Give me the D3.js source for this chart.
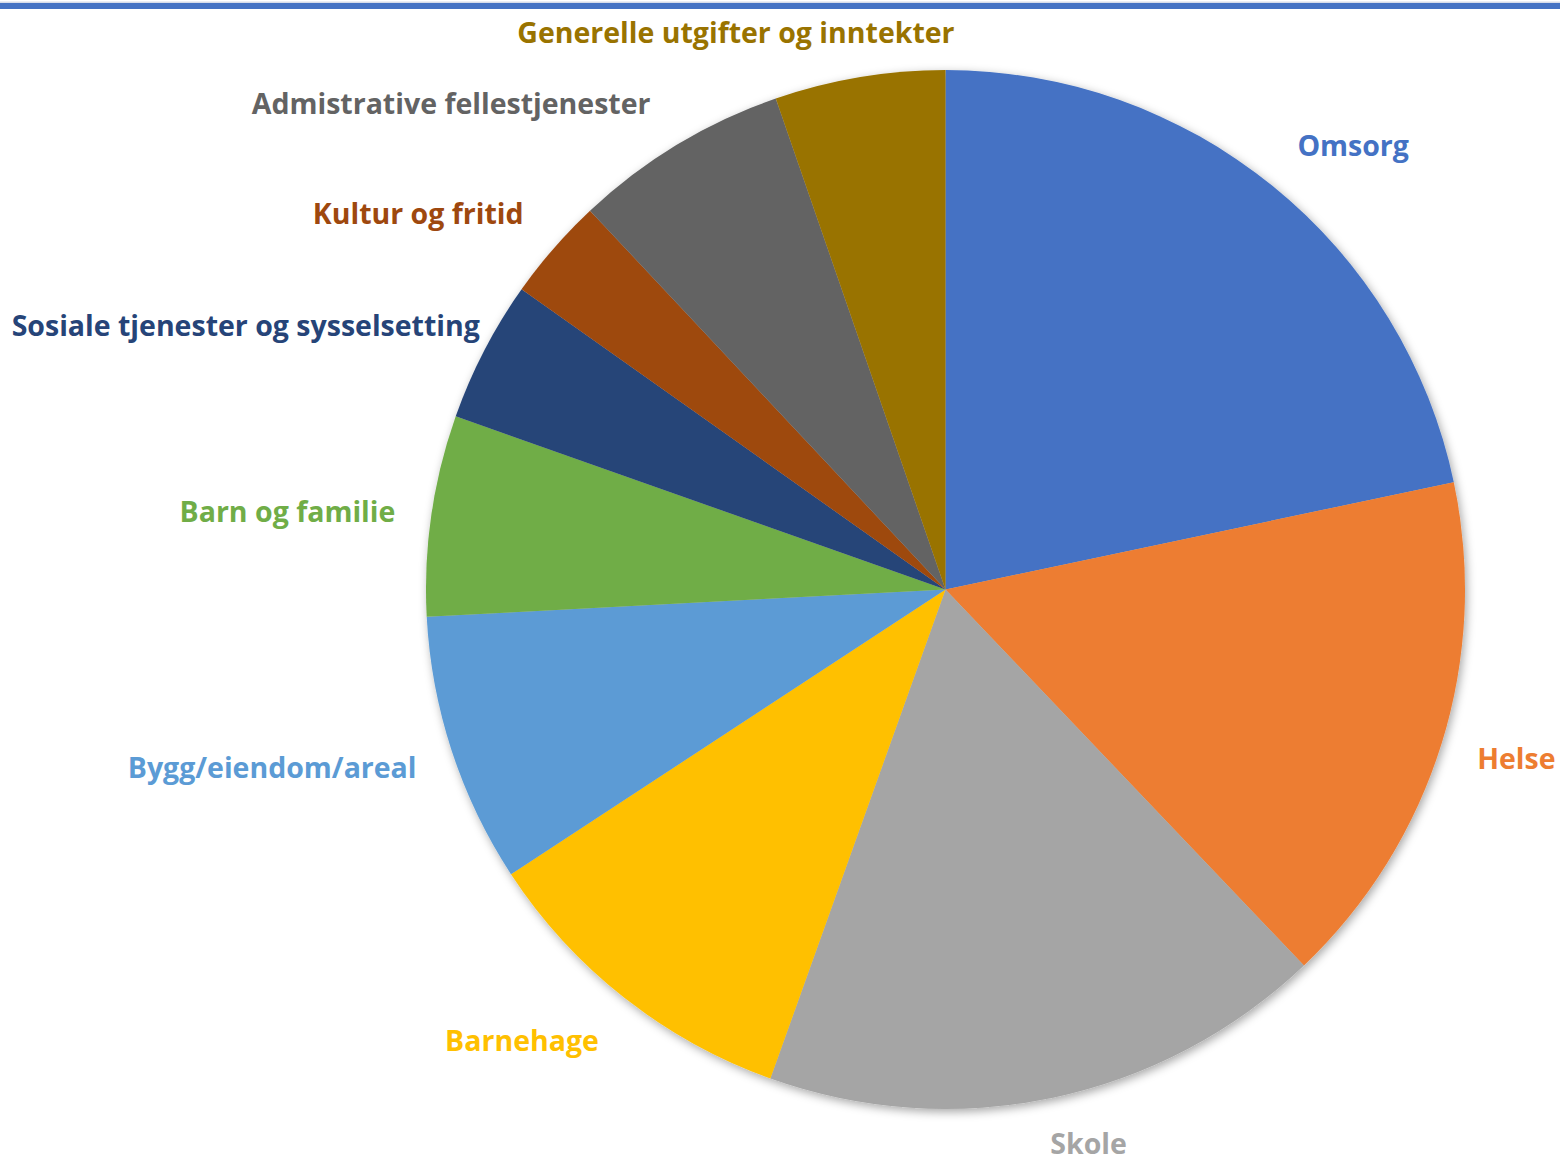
<!DOCTYPE html>
<html><head><meta charset="utf-8">
<script src="https://cdn.jsdelivr.net/npm/d3@7"></script>
<style>html,body{margin:0;padding:0;background:#fff;}svg{display:block;}</style>
</head><body>
<script>
const categories = ["Omsorg","Helse","Skole","Barnehage","Bygg/eiendom/areal","Barn og familie","Sosiale tjenester og sysselsetting","Kultur og fritid","Admistrative fellestjenester","Generelle utgifter og inntekter"];
const values = [21.7,16.2,17.6,10.3,8.4,6.25,4.4,3.2,6.7,5.3];
const colors = ["#4472C4","#ED7D31","#A5A5A5","#FFC000","#5B9BD5","#70AD47","#264478","#9E480E","#636363","#997300"];
// label nudges (layout only)
const labelNudgeX = [-4,-8,26,3,8,9,36,4,-3,-116];
const labelNudgeY = [-5,2,2,7,2,3,-4,-5,-2,0];

const W=1560,H=1168,cx=945.5,cy=589.5,R=519.5,LR=565;
const svg=d3.select("body").append("svg").attr("width",W).attr("height",H);
const defs=svg.append("defs");
const f=defs.append("filter").attr("id","sh").attr("x","-10%").attr("y","-10%").attr("width","120%").attr("height","120%");
f.append("feDropShadow").attr("dx",2).attr("dy",3).attr("stdDeviation",5).attr("flood-color","#000").attr("flood-opacity",0.35);

svg.append("rect").attr("x",0).attr("y",1.5).attr("width",W).attr("height",1.5).attr("fill","#d6dcea");
svg.append("rect").attr("x",0).attr("y",3).attr("width",W).attr("height",6).attr("fill","#4472C4");

const data=categories.map((c,i)=>({name:c,value:values[i],color:colors[i],nx:labelNudgeX[i],ny:labelNudgeY[i]}));
const pie=d3.pie().value(d=>d.value).sort(null);
const arcs=pie(data);
const arc=d3.arc().innerRadius(0).outerRadius(R);
const g=svg.append("g").attr("transform",`translate(${cx},${cy})`);
g.append("g").attr("filter","url(#sh)").selectAll("path").data(arcs).join("path")
  .attr("d",arc).attr("fill",d=>d.data.color);

const lg=svg.append("g").attr("transform",`translate(${cx},${cy})`);
lg.selectAll("text").data(arcs).join("text")
  .each(function(d){
    const a=(d.startAngle+d.endAngle)/2;
    const s=Math.sin(a), c=Math.cos(a);
    let anchor = Math.abs(s)<0.3 ? "middle" : (s>0?"start":"end");
    d3.select(this).attr("x",LR*s+d.data.nx).attr("y",-LR*c+d.data.ny).attr("text-anchor",anchor);
  })
  .attr("dy","0.36em")
  .attr("font-family","'Open Sans', sans-serif").attr("font-weight",700).attr("font-size",28.5)
  .attr("fill",d=>d.data.color)
  .text(d=>d.data.name);
</script>
</body></html>
